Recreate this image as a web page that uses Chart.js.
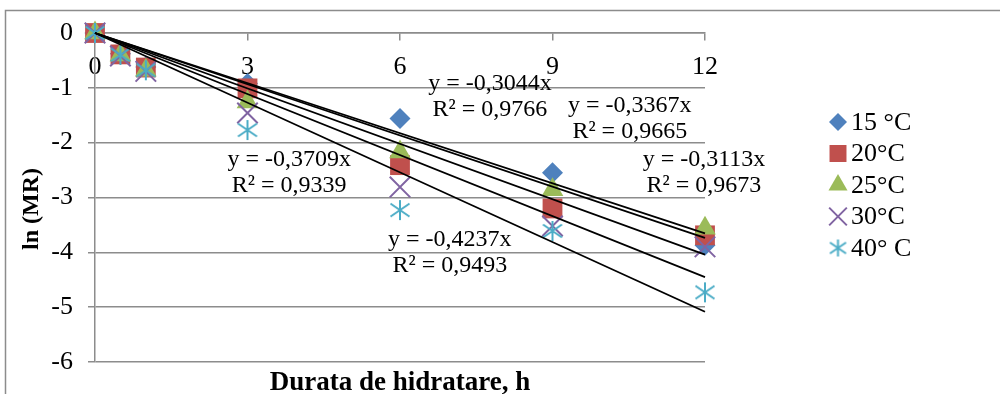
<!DOCTYPE html>
<html>
<head>
<meta charset="utf-8">
<script src="https://cdn.jsdelivr.net/npm/chart.js@4/dist/chart.umd.min.js"></script>
<style>
  html, body { margin: 0; padding: 0; background: #fff; }
  #wrap { width: 1000px; height: 394px; position: relative; }
</style>
</head>
<body>
<div id="wrap"><canvas id="c" width="1000" height="394"></canvas></div>
<script>
// Hydration time (h)
const hours = [0, 0.5, 1, 3, 6, 9, 12];

// ln(MR) per soaking temperature
const seriesLabels = ['15 °C', '20°C', '25°C', '30°C', '40° C'];
const lnMR15 = [0, -0.38, -0.62, -0.92, -1.56, -2.55, -3.87];
const lnMR20 = [0, -0.39, -0.63, -1.01, -2.41, -3.20, -3.69];
const lnMR25 = [0, -0.40, -0.68, -1.26, -2.17, -2.86, -3.56];
const lnMR30 = [0, -0.42, -0.70, -1.46, -2.81, -3.52, -3.90];
const lnMR40 = [0, -0.40, -0.68, -1.77, -3.23, -3.61, -4.73];

// Linear fits through the origin (y = a·x) and their R²
const fitSlopes = [-0.3044, -0.3367, -0.3113, -0.3709, -0.4237];
const fitR2 = [0.9766, 0.9665, 0.9673, 0.9339, 0.9493];

// Axis ticks
const xTickValues = [0, 3, 6, 9, 12];
const yTickValues = [0, -1, -2, -3, -4, -5, -6];

// Axis titles
const xTitle = 'Durata de hidratare, h';
const yTitle = 'ln (MR)';

// ---- styling ----
const serif = '"Liberation Serif", "Times New Roman", serif';
const colors = ['#4F81BD', '#C0504D', '#9BBB59', '#8064A2', '#4BACC6'];
const gridGrey = '#8c8c8c';

// Equation label anchors (data units: centre x, first baseline y)
const eqAnchors = [
  { x: 7.77, y: -1.04 },
  { x: 10.52, y: -1.44 },
  { x: 11.98, y: -2.43 },
  { x: 3.82, y: -2.43 },
  { x: 6.98, y: -3.88 }
];

// asterisk marker: a vertical stroke with two shallow diagonals
function asteriskMarker(color, size, lw) {
  const c = document.createElement('canvas');
  c.width = size; c.height = size;
  const g = c.getContext('2d');
  g.strokeStyle = color;
  g.lineWidth = lw;
  const m = size / 2, r = size / 2 - 1;
  g.beginPath();
  g.moveTo(m, m - r); g.lineTo(m, m + r);
  g.moveTo(m - r * 0.95, m - r * 0.65); g.lineTo(m + r * 0.95, m + r * 0.65);
  g.moveTo(m + r * 0.95, m - r * 0.65); g.lineTo(m - r * 0.95, m + r * 0.65);
  g.stroke();
  return c;
}

const seriesValues = [lnMR15, lnMR20, lnMR25, lnMR30, lnMR40];
const markerStyles = [
  { pointStyle: 'rectRot', radius: 10.5, borderWidth: 0 },
  { pointStyle: 'rect', radius: 14, borderWidth: 0 },
  { pointStyle: 'triangle', radius: 12.5, borderWidth: 0 },
  { pointStyle: 'crossRot', radius: 14.5, borderWidth: 2 },
  { pointStyle: asteriskMarker(colors[4], 22, 2), radius: 11, borderWidth: 0 }
];
const legendMarkers = [
  { pointStyle: 'rectRot', radius: 9, borderWidth: 0 },
  { pointStyle: 'rect', radius: 12, borderWidth: 0 },
  { pointStyle: 'triangle', radius: 11, borderWidth: 0 },
  { pointStyle: 'crossRot', radius: 12.5, borderWidth: 2 },
  { pointStyle: asteriskMarker(colors[4], 19, 2), radius: 9.5, borderWidth: 0 }
];

const pointSets = seriesValues.map((vals, i) => ({
  label: seriesLabels[i],
  data: hours.map((h, k) => ({ x: h, y: vals[k] })),
  pointStyle: markerStyles[i].pointStyle,
  pointRadius: markerStyles[i].radius,
  pointHoverRadius: markerStyles[i].radius,
  pointBorderWidth: markerStyles[i].borderWidth,
  pointBackgroundColor: colors[i],
  pointBorderColor: colors[i],
  showLine: false,
  clip: false,
  order: seriesValues.length - i
}));

const fitSets = fitSlopes.map((a, i) => ({
  label: 'fit ' + seriesLabels[i],
  data: [{ x: hours[0], y: a * hours[0] }, { x: hours[hours.length - 1], y: a * hours[hours.length - 1] }],
  showLine: true,
  borderColor: '#000',
  borderWidth: 1.8,
  pointRadius: 0,
  pointHoverRadius: 0,
  fill: false,
  clip: false,
  order: 0
}));

const fmt = v => String(v).replace('.', ',');

const decor = {
  id: 'decor',
  beforeDraw(chart) {
    const ctx = chart.ctx;
    ctx.save();
    ctx.strokeStyle = gridGrey;
    ctx.lineWidth = 1.5;
    ctx.strokeRect(5.5, 10.5, 1200, 600);
    ctx.restore();
  },
  afterDatasetsDraw(chart) {
    const ctx = chart.ctx;
    const xs = chart.scales.x, ys = chart.scales.y;
    ctx.save();
    ctx.fillStyle = '#000';
    ctx.font = '24px ' + serif;
    ctx.textAlign = 'center';
    ctx.textBaseline = 'alphabetic';
    fitSlopes.forEach((a, i) => {
      const cx = xs.getPixelForValue(eqAnchors[i].x);
      const cy = ys.getPixelForValue(eqAnchors[i].y);
      ctx.fillText('y = ' + fmt(a.toFixed(4)) + 'x', cx, cy);
      ctx.fillText('R² = ' + fmt(fitR2[i].toFixed(4)), cx, cy + 26);
    });
    ctx.restore();
  },
  afterDraw(chart) {
    const ctx = chart.ctx;
    const area = chart.chartArea;
    ctx.save();
    // legend
    const lx = area.right + 133, ly0 = 122, step = 31.5;
    pointSets.forEach((ds, i) => {
      const y = ly0 + i * step;
      ctx.fillStyle = colors[i];
      ctx.strokeStyle = colors[i];
      ctx.lineWidth = legendMarkers[i].borderWidth || 1;
      Chart.helpers.drawPoint(ctx, {
        pointStyle: legendMarkers[i].pointStyle,
        radius: legendMarkers[i].radius,
        rotation: 0,
        borderWidth: legendMarkers[i].borderWidth
      }, lx, y);
      ctx.fillStyle = '#000';
      ctx.font = '26px ' + serif;
      ctx.textAlign = 'left';
      ctx.textBaseline = 'middle';
      ctx.fillText(ds.label, lx + 13, y + 1);
    });
    // axis titles
    ctx.fillStyle = '#000';
    ctx.font = 'bold 27px ' + serif;
    ctx.textAlign = 'center';
    ctx.textBaseline = 'middle';
    ctx.fillText(xTitle, (area.left + area.right) / 2, 383);
    ctx.translate(32, 209);
    ctx.rotate(-Math.PI / 2);
    ctx.font = 'bold 24px ' + serif;
    ctx.fillText(yTitle, 0, 0);
    ctx.restore();
  }
};

Chart.defaults.font.family = serif;
Chart.defaults.color = '#000';

new Chart(document.getElementById('c'), {
  type: 'scatter',
  data: { datasets: [...fitSets, ...pointSets] },
  options: {
    responsive: false,
    animation: false,
    devicePixelRatio: 1,
    layout: { padding: { top: 33, bottom: 32, left: 0, right: 295 } },
    plugins: {
      legend: { display: false },
      tooltip: { enabled: false },
      title: { display: false }
    },
    scales: {
      x: {
        type: 'linear',
        position: { y: 0 },
        min: 0, max: 12,
        afterBuildTicks: s => { s.ticks = xTickValues.map(v => ({ value: v })); },
        grid: { drawOnChartArea: false, drawTicks: true, tickLength: 7, color: gridGrey, lineWidth: 1.5 },
        border: { display: true, color: gridGrey, width: 1.5 },
        ticks: { font: { size: 26, family: serif }, color: '#000', padding: 12, maxRotation: 0 }
      },
      y: {
        type: 'linear',
        min: -6, max: 0,
        afterBuildTicks: s => { s.ticks = yTickValues.map(v => ({ value: v })); },
        afterFit: s => { s.width = 95; },
        grid: { color: gridGrey, lineWidth: 1.5, tickLength: 7, drawTicks: true },
        border: { display: true, color: gridGrey, width: 1.5 },
        ticks: { font: { size: 26, family: serif }, color: '#000', padding: 15 }
      }
    }
  },
  plugins: [decor]
});
</script>
</body>
</html>
